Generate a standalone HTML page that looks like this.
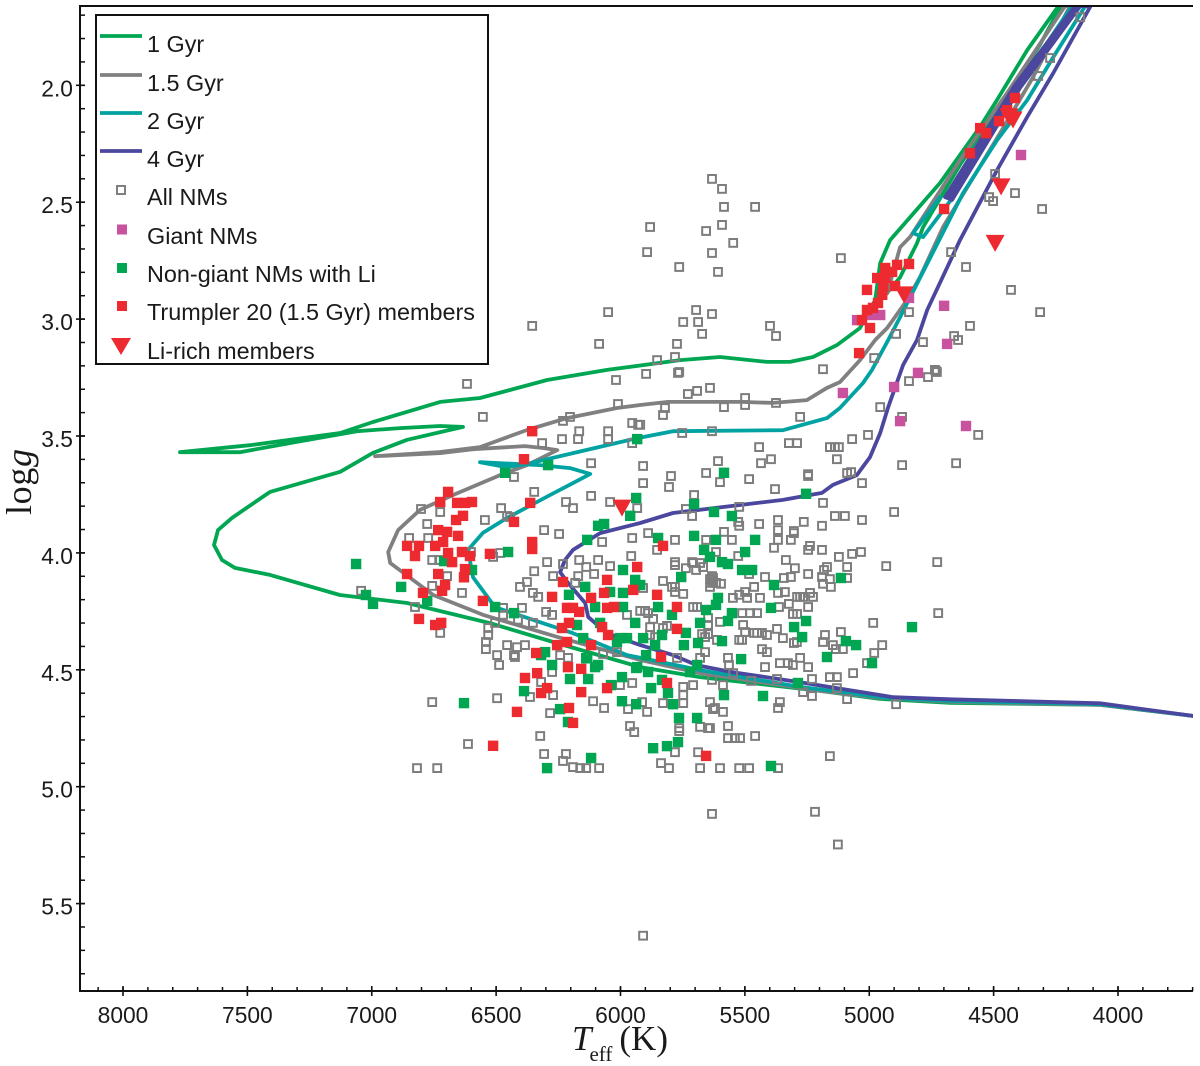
<!DOCTYPE html>
<html lang="en">
<head>
<meta charset="utf-8">
<title>Teff vs log g diagram</title>
<style>
html,body{margin:0;padding:0;background:#fff;}
svg{display:block;}
text{font-family:"Liberation Sans",Arial,sans-serif;fill:#1a1a1a;}
.serif{font-family:"Liberation Serif","Times New Roman",serif;}
</style>
</head>
<body>
<svg id="chart" xmlns="http://www.w3.org/2000/svg" width="1200" height="1066" viewBox="0 0 1200 1066">
  <defs>
    <clipPath id="plot-clip"><rect x="80" y="6" width="1113" height="985"></rect></clipPath>
  </defs>
  <rect x="0" y="0" width="1200" height="1066" fill="#ffffff"></rect>
  <g id="isochrones" clip-path="url(#plot-clip)" fill="none" stroke-width="3.8" stroke-linejoin="round" stroke-linecap="round"></g>
  <g id="marks" clip-path="url(#plot-clip)"></g>
  <g id="axes">
    <line x1="79" y1="6" x2="1193" y2="6" stroke="#111" stroke-width="2"></line>
    <line x1="80" y1="5" x2="80" y2="992" stroke="#111" stroke-width="2"></line>
    <line x1="79" y1="991" x2="1193" y2="991" stroke="#111" stroke-width="2"></line>
  </g>
  <text class="serif" x="572" y="1050" font-size="35"><tspan font-style="italic">T</tspan><tspan font-size="21" dy="11" dx="-2">eff</tspan><tspan dy="-11" dx="7">(K)</tspan></text>
  <text class="serif" transform="translate(31,515) rotate(-90)" font-size="36" textLength="66" lengthAdjust="spacing">log<tspan font-style="italic">g</tspan></text>
  <g>
    <rect x="96" y="15" width="392" height="349" fill="#ffffff" stroke="#111" stroke-width="2"></rect>
    <line x1="100" y1="36" x2="142" y2="36" stroke="#00a651" stroke-width="3.8"></line>
    <line x1="100" y1="75" x2="142" y2="75" stroke="#808080" stroke-width="3.8"></line>
    <line x1="100" y1="113" x2="142" y2="113" stroke="#00a3a1" stroke-width="3.8"></line>
    <line x1="100" y1="151" x2="142" y2="151" stroke="#4b479e" stroke-width="3.8"></line>
    <rect x="117" y="186" width="8" height="8" fill="none" stroke="#808080" stroke-width="2"></rect>
    <rect x="117" y="224.5" width="10" height="10" fill="#c9529f"></rect>
    <rect x="117" y="263" width="10" height="10" fill="#00a651"></rect>
    <rect x="117" y="301" width="10" height="10" fill="#ed2a30"></rect>
    <polygon points="111,338 131,338 121,355" fill="#ed2a30"></polygon>
    <g font-size="23.4">
      <text x="147" y="52">1 Gyr</text>
      <text x="147" y="91">1.5 Gyr</text>
      <text x="147" y="129">2 Gyr</text>
      <text x="147" y="167">4 Gyr</text>
      <text x="147" y="205">All NMs</text>
      <text x="147" y="244">Giant NMs</text>
      <text x="147" y="282">Non-giant NMs with Li</text>
      <text x="147" y="320">Trumpler 20 (1.5 Gyr) members</text>
      <text x="147" y="359">Li-rich members</text>
    </g>
  </g>
</svg>
<script>
var xTickValues = [8000,7500,7000,6500,6000,5500,5000,4500,4000];
var xTickLabels = ["8000","7500","7000","6500","6000","5500","5000","4500","4000"];
var yTickValues = [2.0,2.5,3.0,3.5,4.0,4.5,5.0,5.5];
var yTickLabels = ["2.0","2.5","3.0","3.5","4.0","4.5","5.0","5.5"];

var iso1Gyr = [[3699,4.69],[4072,4.643],[4675,4.634],[4957,4.617],[5198,4.583],[5680,4.524],[5921,4.481],[6271,4.374],[6525,4.293],[6858,4.207],[7128,4.173],[7409,4.087],[7550,4.057],[7602,4.023],[7634,3.959],[7618,3.895],[7562,3.843],[7409,3.732],[7127,3.646],[6995,3.565],[6858,3.509],[6633,3.454],[6725,3.45],[6886,3.459],[7059,3.472],[7288,3.515],[7530,3.562],[7771,3.562],[7490,3.532],[7127,3.48],[6995,3.433],[6725,3.347],[6565,3.33],[6295,3.253],[6054,3.21],[5760,3.168],[5600,3.155],[5411,3.176],[5319,3.176],[5226,3.155],[5130,3.104],[5037,3.031],[4976,2.911],[4956,2.753],[4916,2.655],[4715,2.41],[4554,2.17],[4486,2.055],[4365,1.842],[4245,1.662],[4225,1.645],[4314,1.82],[4636,2.334],[4784,2.6],[4808,2.668],[4876,2.814],[4936,2.89]];
var iso15Gyr = [[3699,4.69],[4072,4.643],[4675,4.63],[4957,4.612],[5198,4.583],[5680,4.507],[5921,4.451],[6254,4.352],[6552,4.258],[6753,4.173],[6926,4.036],[6934,3.989],[6894,3.895],[6806,3.809],[6673,3.745],[6484,3.66],[6376,3.617],[6254,3.553],[6311,3.544],[6384,3.536],[6593,3.549],[6725,3.566],[6987,3.579],[6725,3.561],[6565,3.54],[6376,3.467],[6215,3.416],[6014,3.373],[5921,3.36],[5809,3.347],[5520,3.347],[5387,3.351],[5251,3.339],[5170,3.287],[5118,3.262],[5037,3.168],[4976,3.082],[4928,3.031],[4848,2.911],[4796,2.813],[4703,2.599],[4595,2.41],[4474,2.197],[4341,1.957],[4193,1.654],[4213,1.654],[4446,2.026],[4635,2.313],[4836,2.642],[4876,2.685],[4928,2.882]];
var iso2Gyr = [[3699,4.69],[4072,4.64],[4675,4.626],[4928,4.613],[5278,4.566],[5680,4.494],[5974,4.43],[6191,4.336],[6504,4.225],[6593,4.097],[6613,3.98],[6553,3.907],[6456,3.843],[6283,3.745],[6191,3.694],[6122,3.655],[6203,3.63],[6324,3.617],[6565,3.605],[6456,3.626],[6364,3.609],[6191,3.566],[5934,3.502],[5789,3.472],[5347,3.468],[5170,3.416],[5118,3.373],[5025,3.266],[4989,3.21],[4924,3.082],[4876,2.984],[4623,2.454],[4486,2.227],[4365,2.056],[4260,1.872],[4132,1.654],[4185,1.654],[4285,1.812],[4663,2.471],[4784,2.642],[4824,2.625],[4715,2.471]];
var iso4Gyr = [[3699,4.69],[4072,4.636],[4675,4.619],[4904,4.61],[5278,4.546],[5548,4.503],[5693,4.473],[5789,4.43],[5921,4.387],[6054,4.336],[6130,4.267],[6142,4.207],[6211,4.121],[6243,4.075],[6223,4.023],[6191,3.98],[6082,3.908],[5921,3.865],[5789,3.822],[5520,3.788],[5347,3.766],[5190,3.736],[5146,3.702],[5050,3.66],[4997,3.583],[4956,3.48],[4924,3.369],[4864,3.189],[4808,3.082],[4767,2.954],[4635,2.655],[4486,2.355],[4365,2.128],[4260,1.94],[4112,1.658],[4132,1.654],[4173,1.654],[4414,1.992],[4695,2.471],[4667,2.483],[4394,2.004],[4152,1.654],[4163,1.654],[4404,1.998],[4681,2.477]];

var allNMs = [
[5632,2.393],[5592,2.436],[5584,2.513],[5459,2.513],[5881,2.599],[5592,2.59],[5656,2.616],[5547,2.667],[5893,2.706],[5632,2.71],[5114,2.732],[5764,2.77],[5608,2.791],[5696,2.954],[5632,2.971],[6050,2.963],[5748,3.005],[5688,3.005],[5672,3.056],[5399,3.022],[5375,3.065],[6086,3.099],[5773,3.099],[5781,3.155],[5853,3.168],[5186,3.207],[5897,3.227],[5764,3.219],[6018,3.253],[6355,3.022],[6617,3.27],[6553,3.411],
[4152,1.701],[4273,1.876],[4321,1.953],[4494,2.372],[4414,2.454],[4518,2.471],[4502,2.488],[4305,2.522],[4671,2.706],[4611,2.77],[4430,2.868],[4313,2.963],[4840,2.963],[4595,3.022],[4659,3.065],[4643,3.082],[4892,3.056],[4784,3.091],[4980,3.159],[4736,3.21],[4728,3.219],[4732,3.215],[4764,3.241],[4840,3.258],[4956,3.369],[4868,3.411],[5005,3.488],[5069,3.506],[4562,3.488],[5158,3.54],[5138,3.54],[5122,3.54],[5130,3.592],[4868,3.617],[4651,3.609],[5089,3.651],[5073,3.647],[5029,3.694],[5186,3.779],[4900,3.818],[5138,3.835],[5098,3.835],[5029,3.852],[5190,3.877],[5033,3.989],[5069,3.997],[5122,4.01],[4727,4.032],[5170,4.053],[5089,4.053],[4932,4.049],[5182,4.066],[5158,4.105],[5089,4.1],[5190,4.096],[5154,4.138],[5186,4.125],[4723,4.25],[4984,4.292],[5178,4.344],[5114,4.331],[5186,4.374],[5146,4.387],[4948,4.387],[5134,4.404],[5106,4.404],[4980,4.421],
[5769,3.223],[5729,3.313],[5692,3.3],[5640,3.287],[5499,3.33],[5499,3.36],[5584,3.369],[5375,3.351],[5821,3.373],[5829,3.403],[5278,3.411],[5921,3.445],[5752,3.48],[5632,3.472],[5443,3.54],[5323,3.523],[5290,3.523],[5395,3.592],[5435,3.609],[5608,3.6],[5909,3.621],[5797,3.664],[5656,3.651],[5483,3.677],[5600,3.69],[5246,3.656],[5246,3.664],[5909,3.694],[5805,3.711],[5379,3.72],[5704,3.745],[5737,3.805],[5523,3.796],[5712,3.835],[5367,3.852],[5263,3.86],[5443,3.869],[5527,3.86],[5523,3.877],[5367,3.895],[5303,3.899],[5303,3.908],[5889,3.908],[5584,3.903],[5781,3.937],[5656,3.937],[5552,3.937],[5367,3.937],[5315,3.937],[5383,3.971],[5238,3.963],[5246,3.98],[5190,3.98],[5853,3.98],[5616,3.989],[5527,4.006],[5335,4.023],[5781,4.032],[5781,4.045],[5712,4.032],[5680,4.036],[5668,4.053],[5737,4.058],[5696,4.066],[5299,4.058],[5246,4.083],[5483,4.083],[5419,4.096],[5315,4.096],[5343,4.1],[5632,4.092],[5829,4.113],[5640,4.105],[5628,4.113],[5616,4.121],[5632,4.121],[5628,4.1],[5640,4.138],[5596,4.125],[5463,4.138],[5781,4.138],[5781,4.16],[5748,4.168],[5339,4.16],[5238,4.164],[5226,4.181],[5367,4.164],[5499,4.16],[5523,4.172],[5491,4.185],[5290,4.181],[5278,4.181],[5266,4.181],[5548,4.185],[5439,4.185],[5323,4.211],[5246,4.224],[5363,4.224],[5692,4.224],[5708,4.224],[5511,4.25],[5479,4.25],[5451,4.25],[5307,4.254],[5290,4.254],[5901,4.241],[5921,4.241],[5889,4.25],[5869,4.275],[5648,4.271],[5648,4.301],[5600,4.288],[5507,4.301],[5881,4.31],[5813,4.305],[5371,4.318],[5672,4.34],[5648,4.34],[5660,4.353],[5463,4.335],[5451,4.335],[5431,4.335],[5411,4.344],[5347,4.357],[5499,4.331],[5523,4.365],[5511,4.365],[5612,4.365],[5303,4.378],[5291,4.374],[5431,4.404],[5411,4.417],[5660,4.417],[5773,4.442],[5680,4.442],[5568,4.442],[5278,4.442],[5359,4.464],[5327,4.464],[5307,4.472],[5564,4.472],[5419,4.481],[5246,4.481],[5009,4.464],[5230,4.532],[5158,4.524],[5130,4.524],[5065,4.507],[5371,4.532],[5632,4.536],[5547,4.507],[5475,4.54],[5130,4.571],[5266,4.588],[5230,4.605],[5089,4.618],[4892,4.64],[5640,4.631],[5588,4.558],[5359,4.631],[5367,4.656],[5620,4.656],
[6484,3.993],[5957,4.006],[6295,4.032],[6347,4.071],[6231,4.04],[6166,4.023],[6138,4.053],[6090,4.023],[6042,4.049],[6106,4.083],[6170,4.092],[6271,4.092],[6376,4.117],[6404,4.138],[6352,4.164],[6331,4.181],[6182,4.121],[5909,4.143],[5708,4.036],[5793,4.138],[5974,4.258],[6299,4.245],[6275,4.258],[6396,4.228],[6472,4.228],[6472,4.258],[6412,4.279],[6352,4.292],[5829,4.314],[5881,4.344],[5861,4.353],[6456,4.387],[6416,4.396],[6384,4.387],[6424,4.438],[6211,4.442],
[6010,3.356],[6203,3.411],[6231,3.428],[6315,3.523],[6235,3.506],[6171,3.506],[6166,3.472],[6050,3.472],[6050,3.506],[5953,3.437],[5929,3.445],[5953,3.523],[6118,3.609],[6428,3.668],[6347,3.732],[6118,3.749],[6802,3.805],[6725,3.818],[6480,3.801],[6219,3.775],[6191,3.801],[6042,3.775],[5933,3.801],[6545,3.852],[6456,3.835],[6444,3.839],[6777,3.869],[6307,3.895],[6247,3.912],[6850,3.929],[6773,3.929],[5953,3.929],[6074,3.946],[6601,3.989],[6512,4.01],[6757,4.023],[6729,4.023],[6697,4.092],[6637,4.164],[6757,4.134],[7043,4.155],[6826,4.224],[6725,4.335],[6504,4.292],[6532,4.314],[6532,4.344],[6541,4.374],[6541,4.404],[6496,4.43],[6428,4.43],[6488,4.472],[6243,4.43],[6014,4.417],[6070,4.425],
[6319,4.545],[6275,4.502],[6364,4.609],[6271,4.601],[6757,4.631],[6496,4.614],[6110,4.627],[6066,4.656],[5953,4.549],[6002,4.558],[5748,4.566],[5708,4.558],[5748,4.601],[5748,4.635],[5829,4.635],[5913,4.631],[5970,4.661],[5893,4.673],[5628,4.661],[5588,4.673],[6283,4.678],[5962,4.733],[5945,4.759],[5764,4.742],[5764,4.755],[5680,4.737],[5648,4.742],[5640,4.742],[5568,4.733],[6323,4.776],[6613,4.81],[5568,4.785],[5540,4.785],[5519,4.785],[5459,4.776],[6307,4.853],[6219,4.853],[6231,4.883],[6191,4.909],[6162,4.913],[6138,4.913],[6086,4.913],[6818,4.913],[6737,4.913],[5781,4.845],[5688,4.845],[5837,4.892],[5805,4.913],[5680,4.913],[5600,4.913],[5523,4.913],[5483,4.913],[5367,4.913],[5158,4.862],[5632,5.109],[5218,5.1],[5126,5.24],[5909,5.63]
];
var giantNMs = [[4390,2.291],[4699,2.936],[4687,3.099],[4840,2.902],[5049,2.997],[4956,2.975],[4997,2.975],[5106,3.309],[4900,3.283],[4876,3.429],[4804,3.223],[4611,3.45]];
var nonGiantLi = [
[7063,4.04],[7023,4.173],[6995,4.211],[6882,4.138],[6777,4.198],[6464,3.65],[6291,3.617],[6452,3.989],[6597,4.066],[6709,4.028],[6504,4.224],[6428,4.25],[5933,3.506],[5937,3.758],[5961,3.834],[6066,3.869],[6090,3.877],[6134,3.937],[5990,4.066],[5941,4.108],[6142,4.138],[6207,4.172],[5990,4.164],[6042,4.16],[5990,4.224],[6102,4.224],[5941,4.292],[6175,4.301],[6082,4.292],[6150,4.357],[6002,4.357],[5974,4.357],[6014,4.374],[6303,4.417],[6319,4.43],[6134,4.443],[6102,4.481],[6275,4.472],[5933,4.481],
[5584,3.65],[5254,3.74],[5704,3.784],[5624,3.818],[5552,3.835],[5849,3.929],[5704,3.92],[5616,3.937],[5459,3.937],[5664,3.98],[5499,3.989],[5640,4.01],[5592,4.032],[5568,4.04],[5511,4.066],[5471,4.066],[5756,4.096],[5383,4.13],[5114,4.1],[5921,4.13],[5608,4.185],[5616,4.215],[5656,4.237],[5849,4.224],[5793,4.258],[5552,4.25],[5568,4.284],[5680,4.292],[5395,4.228],[5737,4.335],[5833,4.344],[5254,4.284],[5302,4.31],[5270,4.353],[4828,4.31],[5909,4.357],[5861,4.387],[5745,4.387],[5688,4.378],[5592,4.37],[5897,4.43],[5515,4.447],[5692,4.472],[5094,4.37],[5053,4.387],[5170,4.438],[4989,4.464],
[6090,4.472],[6138,4.443],[5937,4.485],[5889,4.502],[5720,4.502],[5287,4.549],[5584,4.601],[5427,4.605],[5994,4.524],[6038,4.558],[5833,4.536],[5877,4.571],[6130,4.532],[6203,4.532],[6388,4.584],[6629,4.635],[5994,4.627],[5937,4.64],[5809,4.592],[5789,4.64],[6243,4.661],[6211,4.716],[5765,4.699],[5692,4.699],[5769,4.802],[5869,4.828],[5813,4.819],[6118,4.87],[6295,4.913],[5395,4.904]
];
var trumplerMembers = [
[4414,2.047],[4446,2.099],[4478,2.146],[4554,2.176],[4530,2.197],[4595,2.283],[4699,2.522],[4840,2.757],[4888,2.761],[4936,2.774],[4908,2.791],[4968,2.817],[4936,2.817],[5009,2.868],[4944,2.855],[4896,2.851],[4948,2.889],[4965,2.924],[5009,2.954],[4985,2.945],[5029,2.997],[4997,3.031],[5041,3.138],
[6355,3.472],[6388,3.592],[6693,3.732],[6725,3.775],[6657,3.779],[6625,3.779],[6597,3.775],[6633,3.834],[6661,3.852],[6363,3.779],[6428,3.86],[6733,3.895],[6697,3.903],[6653,3.92],[6713,3.946],[6745,3.963],[6858,3.963],[6810,3.963],[6826,4.006],[6693,3.993],[6637,3.989],[6605,4.006],[6677,4.032],[6525,3.997],[6355,3.946],[6355,3.976],[6625,4.062],[6629,4.097],[6858,4.083],[6733,4.083],[6705,4.13],[6717,4.155],[6794,4.164],[6553,4.198],[6810,4.275],[6745,4.301],[6721,4.292],
[6275,4.181],[6231,4.117],[6215,4.228],[6191,4.228],[6166,4.245],[6118,4.185],[6054,4.108],[6066,4.164],[6054,4.228],[6026,4.224],[5949,4.151],[5933,4.053],[6207,4.292],[6235,4.314],[6074,4.31],[6050,4.344],[6215,4.374],[6255,4.387],[6118,4.387],[6339,4.421],[6211,4.481],[6158,4.489],[6335,4.507],[6384,4.528],[6295,4.571],[6319,4.592],[6158,4.588],[6054,4.571],[5813,4.549],[6207,4.656],[6191,4.72],[6416,4.673],[6512,4.818],[5656,4.861],[5829,3.963],[5853,4.172],[5773,4.224],[5773,4.318],[5837,4.438]
];
var liRichMembers = [[5994,3.801],[4470,2.427],[4494,2.669],[4860,2.889],[4422,2.141],[4438,2.128]];

function xScale(t){ return 123 + (8000 - t) * 0.24875; }
function yScale(g){ return 87 + (g - 2) * 233.8; }
function yTickScale(g){ return yScale(g) - 1.7; }

var NS = 'http://www.w3.org/2000/svg';
function make(tag, parent){
  var el = document.createElementNS(NS, tag);
  parent.appendChild(el);
  return el;
}

var lineLayer = document.getElementById('isochrones');
function drawLine(series, color, name){
  var path = make('path', lineLayer);
  var d = '';
  for (var i = 0; i < series.length; i++) {
    d += (i ? 'L' : 'M') + xScale(series[i][0]).toFixed(1) + ' ' + yScale(series[i][1]).toFixed(1);
  }
  path.setAttribute('d', d);
  path.setAttribute('stroke', color);
  
  
}
drawLine(iso1Gyr, '#00a651', 'isochrone-1-gyr');
drawLine(iso15Gyr, '#808080', 'isochrone-1-5-gyr');
drawLine(iso2Gyr, '#00a3a1', 'isochrone-2-gyr');
drawLine(iso4Gyr, '#4b479e', 'isochrone-4-gyr');

var markLayer = document.getElementById('marks');
allNMs.forEach(function(p){
  var r = make('rect', markLayer);
  r.setAttribute('x', (xScale(p[0]) - 3.9).toFixed(1));
  r.setAttribute('y', (yScale(p[1]) - 3.9).toFixed(1));
  r.setAttribute('width', 7.8);
  r.setAttribute('height', 7.8);
  r.setAttribute('fill', 'none');
  r.setAttribute('stroke', '#7d7d7d');
  r.setAttribute('stroke-width', 2);
  
  
});
giantNMs.forEach(function(p){
  var r = make('rect', markLayer);
  r.setAttribute('x', (xScale(p[0]) - 5.2).toFixed(1));
  r.setAttribute('y', (yScale(p[1]) - 5.2).toFixed(1));
  r.setAttribute('width', 10.4);
  r.setAttribute('height', 10.4);
  r.setAttribute('fill', '#c9529f');
  
  
});
nonGiantLi.forEach(function(p){
  var r = make('rect', markLayer);
  r.setAttribute('x', (xScale(p[0]) - 5.2).toFixed(1));
  r.setAttribute('y', (yScale(p[1]) - 5.2).toFixed(1));
  r.setAttribute('width', 10.4);
  r.setAttribute('height', 10.4);
  r.setAttribute('fill', '#00a651');
  
  
});
trumplerMembers.forEach(function(p){
  var r = make('rect', markLayer);
  r.setAttribute('x', (xScale(p[0]) - 5.2).toFixed(1));
  r.setAttribute('y', (yScale(p[1]) - 5.2).toFixed(1));
  r.setAttribute('width', 10.4);
  r.setAttribute('height', 10.4);
  r.setAttribute('fill', '#ed2a30');
  
  
});
liRichMembers.forEach(function(p){
  var t = make('polygon', markLayer);
  var cx = xScale(p[0]);
  var cy = yScale(p[1]);
  t.setAttribute('points', (cx - 9.5) + ',' + (cy - 8.5) + ' ' + (cx + 9.5) + ',' + (cy - 8.5) + ' ' + cx + ',' + (cy + 8.5));
  t.setAttribute('fill', '#ed2a30');
  
  
});

var axes = document.getElementById('axes');
for (var mt = 8100; mt >= 3700; mt -= 100) {
  var mx = xScale(mt);
  var tick = make('line', axes);
  tick.setAttribute('x1', mx);
  tick.setAttribute('x2', mx);
  tick.setAttribute('y1', 987);
  tick.setAttribute('y2', 991);
  tick.setAttribute('stroke', '#111');
  tick.setAttribute('stroke-width', 1.5);
  
  
}
xTickValues.forEach(function(v, i){
  var px = xScale(v);
  var tick = make('line', axes);
  tick.setAttribute('x1', px);
  tick.setAttribute('x2', px);
  tick.setAttribute('y1', 986);
  tick.setAttribute('y2', 996);
  tick.setAttribute('stroke', '#111');
  tick.setAttribute('stroke-width', 1.6);
  
  
  var label = make('text', axes);
  label.setAttribute('x', px);
  label.setAttribute('y', 1023);
  label.setAttribute('font-size', 22.8);
  label.setAttribute('text-anchor', 'middle');
  
  
  label.textContent = xTickLabels[i];
});
for (var mg = 17; mg <= 58; mg++) {
  var my = yTickScale(mg / 10);
  var ytick = make('line', axes);
  ytick.setAttribute('x1', 80);
  ytick.setAttribute('x2', 85);
  ytick.setAttribute('y1', my);
  ytick.setAttribute('y2', my);
  ytick.setAttribute('stroke', '#111');
  ytick.setAttribute('stroke-width', 1.5);
  
  
}
yTickValues.forEach(function(v, i){
  var py = yTickScale(v);
  var tick = make('line', axes);
  tick.setAttribute('x1', 76);
  tick.setAttribute('x2', 85);
  tick.setAttribute('y1', py);
  tick.setAttribute('y2', py);
  tick.setAttribute('stroke', '#111');
  tick.setAttribute('stroke-width', 1.6);
  
  
  var label = make('text', axes);
  label.setAttribute('x', 73);
  label.setAttribute('y', py + 11);
  label.setAttribute('font-size', 22.8);
  label.setAttribute('text-anchor', 'end');
  
  
  label.textContent = yTickLabels[i];
});
</script>
</body>
</html>
